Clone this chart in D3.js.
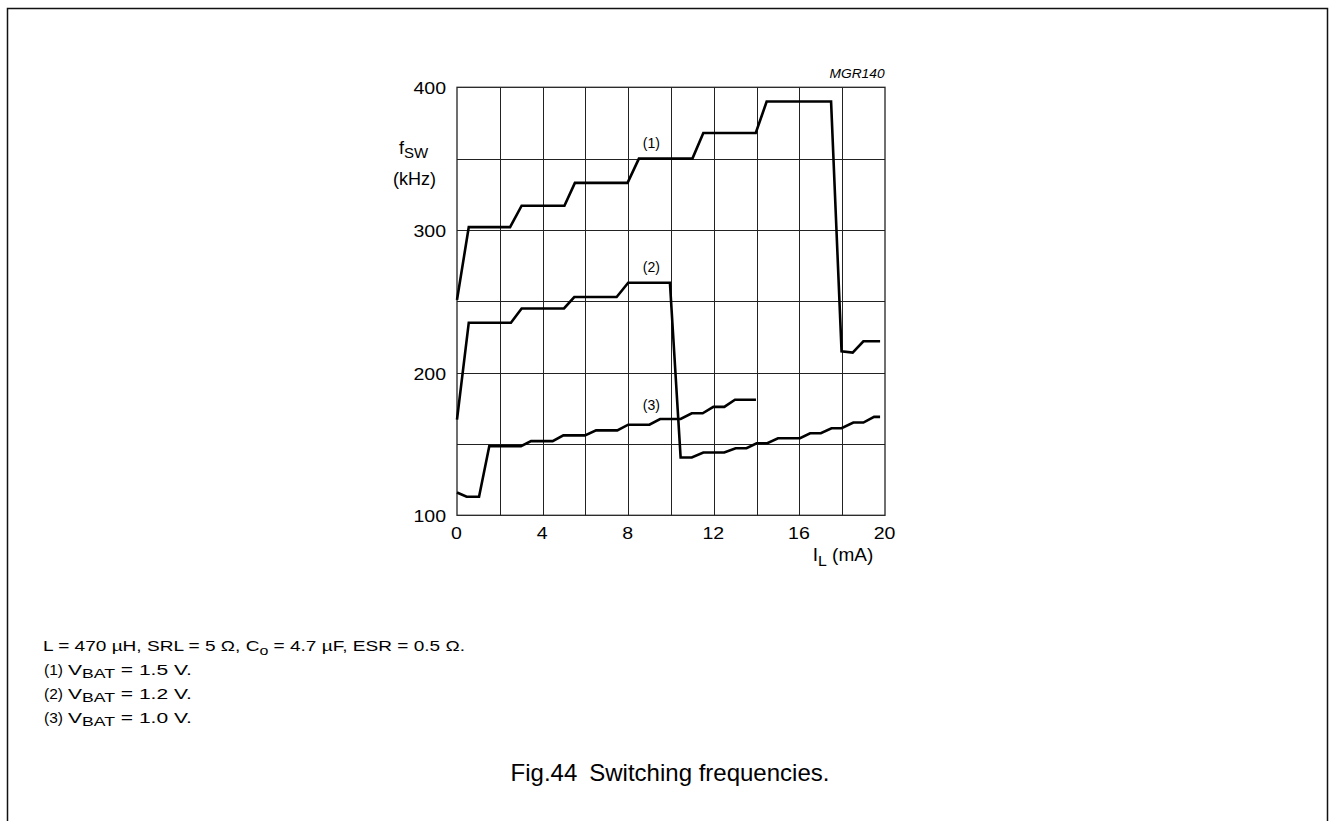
<!DOCTYPE html>
<html>
<head>
<meta charset="utf-8">
<script src="https://cdn.jsdelivr.net/npm/d3@7"></script>
<style>
  html, body { margin: 0; padding: 0; background: #fff; }
  svg { display: block; }
  text { font-family: "Liberation Sans", Arial, Helvetica, sans-serif; fill: #000; }
</style>
</head>
<body>
<svg id="chart" width="1329" height="821"></svg>
<script>
// ---- Data ----
const xTicks = [0, 4, 8, 12, 16, 20];           // I_L (mA) tick labels
const xGrid = [2, 4, 6, 8, 10, 12, 14, 16, 18];  // vertical grid lines
const yTicks = [100, 200, 300, 400];             // f_sw (kHz) tick labels
const yGrid = [150, 200, 250, 300, 350];         // horizontal grid lines

// Curve (1): V_BAT = 1.5 V
const curve1X = [0, 0.55, 2.48, 3.02, 5.02, 5.51, 7.97, 8.5, 11.0, 11.51, 13.96, 14.47, 17.48, 17.97, 18.49, 18.99, 19.77];
const curve1Y = [251, 302, 302, 317, 317, 333, 333, 350, 350, 368, 368, 390, 390, 215, 214, 222, 222];

// Curve (2): V_BAT = 1.2 V
const curve2X = [0, 0.55, 2.52, 3.02, 5.0, 5.48, 7.46, 8.0, 9.95, 10.45, 10.97, 11.51, 12.49, 13.02, 13.53, 14.0, 14.5, 15.0, 16.03, 16.5, 17.0, 17.5, 17.97, 18.52, 18.99, 19.49, 19.77];
const curve2Y = [167, 235, 235, 245, 245, 253, 253, 263, 263, 140.5, 140.5, 144, 144, 147, 147, 150.5, 150.5, 154, 154, 157.5, 157.5, 161, 161, 165, 165, 169, 169];

// Curve (3): V_BAT = 1.0 V
const curve3X = [0, 0.45, 1.03, 1.51, 2.99, 3.46, 4.47, 4.97, 5.98, 6.5, 7.49, 8.0, 8.99, 9.49, 10.45, 10.97, 11.48, 11.98, 12.49, 12.99, 13.97];
const curve3Y = [116, 113, 113, 148.5, 148.5, 152, 152, 156, 156, 159.5, 159.5, 163.5, 163.5, 167.5, 167.5, 171.5, 171.5, 176, 176, 181, 181];

const curveLabels = ["(1)", "(2)", "(3)"];
const labelAt = [[9.08, 357.5], [9.08, 270.5], [9.08, 173.5]];  // label baseline anchor in data units (mA, kHz)

const footNums = ["(1)", "(2)", "(3)"];
const footVbat = ["1.5", "1.2", "1.0"];
const footLine1 = { pre: "L = 470 \u00B5H, SRL = 5 \u03A9, C", sub: "o", post: " = 4.7 \u00B5F, ESR = 0.5 \u03A9." };
const caption = "Fig.44\u2002Switching frequencies.";
const figCode = "MGR140";

// ---- Layout ----
const svg = d3.select("#chart");
const x = d3.scaleLinear().domain([0, 20]).range([457, 885]);
const y = d3.scaleLinear().domain([100, 400]).range([515.3, 87.3]);

// stretch a text element horizontally so it spans [x0, x1]
function fit(sel, x0, x1) {
  const b = sel.node().getBBox();
  const s = (x1 - x0) / b.width;
  sel.attr("transform", `translate(${x0},0) scale(${s},1) translate(${-b.x},0)`);
  return sel;
}

// Outer frame (top, left, right)
svg.append("path")
  .attr("d", "M7.5,821 L7.5,8.5 L1327.5,8.5 L1327.5,821")
  .attr("fill", "none").attr("stroke", "#111").attr("stroke-width", 1.5);

// Grid
const g = svg.append("g");
g.selectAll("line.vg").data(xGrid).join("line")
  .attr("x1", d => Math.round(x(d)) + 0.5).attr("x2", d => Math.round(x(d)) + 0.5)
  .attr("y1", y(400)).attr("y2", y(100))
  .attr("stroke", "#222").attr("stroke-width", 1);
g.selectAll("line.hg").data(yGrid).join("line")
  .attr("y1", d => Math.round(y(d)) + 0.5).attr("y2", d => Math.round(y(d)) + 0.5)
  .attr("x1", x(0)).attr("x2", x(20))
  .attr("stroke", "#222").attr("stroke-width", 1);

// Frame of plot
g.append("rect")
  .attr("x", x(0)).attr("y", y(400))
  .attr("width", x(20) - x(0)).attr("height", y(100) - y(400))
  .attr("fill", "none").attr("stroke", "#222").attr("stroke-width", 1.3);

// Axes via d3 axis generators (tick labels only)
const xAxis = d3.axisBottom(x).tickValues(xTicks).tickSize(0).tickFormat(d3.format("d"));
const xa = svg.append("g").attr("transform", `translate(0,${y(100)})`).call(xAxis);
xa.select(".domain").remove();
xa.selectAll("text")
  .attr("font-size", 17).attr("font-family", "Liberation Sans, Arial, sans-serif").attr("fill", "#000")
  .attr("dy", null).attr("y", 0)
  .attr("transform", "translate(-1,23.7) scale(1.15,1)");

const yAxis = d3.axisLeft(y).tickValues(yTicks).tickSize(0).tickFormat(d3.format("d"));
const ya = svg.append("g").attr("transform", `translate(${x(0)},0)`).call(yAxis);
ya.select(".domain").remove();
ya.selectAll("text")
  .attr("font-size", 17).attr("font-family", "Liberation Sans, Arial, sans-serif").attr("fill", "#000")
  .attr("x", 0).attr("dy", "0.38em")
  .attr("transform", "translate(-11,0) scale(1.15,1)");

// Curves
const line = d3.line().x(d => x(d[0])).y(d => y(d[1]));
const curves = [
  d3.zip(curve1X, curve1Y),
  d3.zip(curve2X, curve2Y),
  d3.zip(curve3X, curve3Y)
];
svg.append("g").selectAll("path").data(curves).join("path")
  .attr("d", line)
  .attr("fill", "none").attr("stroke", "#000").attr("stroke-width", 2.6)
  .attr("stroke-linejoin", "miter");

// Curve labels
svg.append("g").selectAll("text").data(curveLabels).join("text")
  .attr("x", (d, i) => x(labelAt[i][0]))
  .attr("y", (d, i) => y(labelAt[i][1]))
  .attr("text-anchor", "middle").attr("font-size", 14)
  .text(d => d);

// Y axis title
const yt = svg.append("text").attr("x", 399).attr("y", 153.5).attr("font-size", 18);
yt.append("tspan").text("f");
yt.append("tspan").attr("dy", 4).attr("font-size", 15).text("SW");
svg.append("text").attr("x", 393).attr("y", 184.5).attr("font-size", 18).text("(kHz)");

// X axis title
const xt = svg.append("text").attr("x", 0).attr("y", 561).attr("font-size", 18);
xt.append("tspan").text("I");
xt.append("tspan").attr("dy", 5.5).attr("font-size", 15).text("L");
xt.append("tspan").attr("dy", -5.5).text(" (mA)");
fit(xt, 812.7, 873.3);

// Figure code
const fc = svg.append("text").attr("x", 0).attr("y", 78.5)
  .attr("font-size", 12).attr("font-style", "italic").text(figCode);
fit(fc, 829.5, 885);

// Footnotes
const l1 = svg.append("text").attr("x", 0).attr("y", 651).attr("font-size", 15.5);
l1.append("tspan").text(footLine1.pre);
l1.append("tspan").attr("dy", 4).attr("font-size", 13).text(footLine1.sub);
l1.append("tspan").attr("dy", -4).text(footLine1.post);
fit(l1, 43, 465);

footNums.forEach((n, i) => {
  const yy = 675 + i * 24;
  svg.append("text").attr("x", 44).attr("y", yy).attr("font-size", 15.5).text(n);
  const t = svg.append("text").attr("x", 0).attr("y", yy).attr("font-size", 15.5);
  t.append("tspan").text("V");
  t.append("tspan").attr("dy", 3.5).attr("font-size", 13).text("BAT");
  t.append("tspan").attr("dy", -3.5).text(" = " + footVbat[i] + " V.");
  fit(t, 68, 192);
});

// Caption
svg.append("text").attr("x", 670).attr("y", 781).attr("text-anchor", "middle")
  .attr("font-size", 24).text(caption);
</script>
</body>
</html>
